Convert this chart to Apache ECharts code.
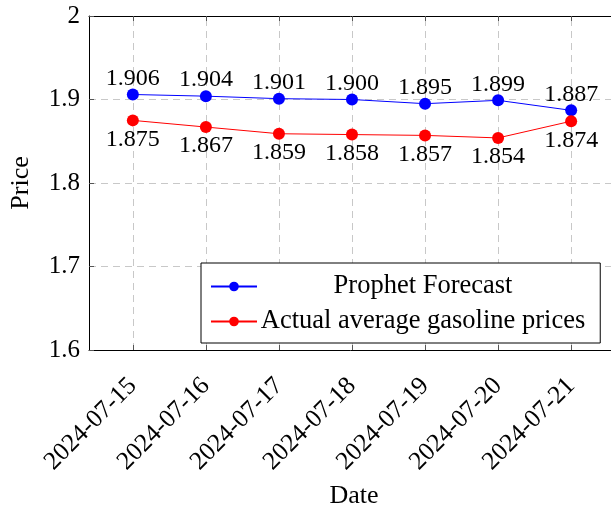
<!DOCTYPE html>
<html>
<head>
<meta charset="utf-8">
<script src="https://cdn.jsdelivr.net/npm/echarts@6/dist/echarts.min.js"></script>
<style>html,body{margin:0;padding:0;background:#fff}#c{width:611px;height:508px}</style>
</head>
<body>
<div id="c"></div>
<script>
const dates = ['2024-07-15','2024-07-16','2024-07-17','2024-07-18','2024-07-19','2024-07-20','2024-07-21'];
const prophetForecast = [1.906, 1.904, 1.901, 1.900, 1.895, 1.899, 1.887];
const actualPrices = [1.875, 1.867, 1.859, 1.858, 1.857, 1.854, 1.874];
const yTicks = [1.6, 1.7, 1.8, 1.9, 2.0];
const yTickLabels = ['1.6', '1.7', '1.8', '1.9', '2'];

const FONT = '"Liberation Serif", "DejaVu Serif", serif';
const idx = dates.map((d, i) => i);
const chart = echarts.init(document.getElementById('c'), null, {renderer: 'canvas'});

function pts(arr) { return arr.map((v, i) => [i, v]); }
const gridDash = {color: '#c8c8c8', type: [7, 5], width: 1};
const X_MIN = -0.6, X_MAX = 6.655;

const option = {
  animation: false,
  textStyle: {fontFamily: FONT},
  grid: {left: 89, right: -8, top: 16, bottom: 158, containLabel: false, outerBoundsMode: 'none'},
  xAxis: [{
    type: 'value', min: X_MIN, max: X_MAX,
    name: 'Date', nameLocation: 'middle', nameGap: 133,
    nameTextStyle: {fontFamily: FONT, fontSize: 26, color: '#000'},
    axisLine: {show: true, onZero: false, lineStyle: {color: '#000', width: 1}},
    axisTick: {show: true, inside: true, length: 5, customValues: idx, lineStyle: {color: '#555'}},
    axisLabel: {
      customValues: idx, rotate: 45, margin: 32,
      fontFamily: FONT, fontSize: 25.5, color: '#000',
      formatter: v => dates[Math.round(v)] || ''
    },
    splitLine: {show: false}
  }, {
    type: 'value', min: X_MIN, max: X_MAX, position: 'top',
    axisLine: {show: true, onZero: false, lineStyle: {color: '#000', width: 1}},
    axisTick: {show: true, inside: true, length: 5, customValues: idx, lineStyle: {color: '#555'}},
    axisLabel: {show: false},
    splitLine: {show: false}
  }],
  yAxis: [{
    type: 'value', min: 1.6, max: 2.0, interval: 0.1,
    name: 'Price', nameLocation: 'middle', nameGap: 55, nameRotate: 90,
    nameTextStyle: {fontFamily: FONT, fontSize: 26, color: '#000'},
    axisLine: {show: true, onZero: false, lineStyle: {color: '#000', width: 1}},
    axisTick: {show: true, inside: true, length: 5, lineStyle: {color: '#555'}},
    axisLabel: {
      margin: 9, fontFamily: FONT, fontSize: 25, color: '#000',
      formatter: v => {
        const k = yTicks.findIndex(t => Math.abs(t - v) < 1e-6);
        return k >= 0 ? yTickLabels[k] : '';
      }
    },
    splitLine: {show: true, lineStyle: gridDash}
  }],
  legend: {
    orient: 'vertical', left: 201, top: 263,
    backgroundColor: '#fff', borderColor: '#000', borderWidth: 1, borderRadius: 0,
    padding: [10, 15, 8, 9], itemGap: 8, itemWidth: 46, itemHeight: 12, itemTextGap: 5,
    formatter: name => '{c|' + name + '}',
    textStyle: {
      fontFamily: FONT, fontSize: 26.5, color: '#000',
      rich: {c: {fontFamily: FONT, fontSize: 26.5, color: '#000', width: 322, align: 'center', lineHeight: 28}}
    },
    data: ['Prophet Forecast', 'Actual average gasoline prices']
  },
  series: [{
    name: 'Prophet Forecast', type: 'line', data: pts(prophetForecast),
    symbol: 'circle', symbolSize: 12, z: 3,
    itemStyle: {color: '#0000ff'}, lineStyle: {color: '#0000ff', width: 1},
    label: {show: true, position: 'top', distance: -2, fontFamily: FONT, fontSize: 24, color: '#000',
      formatter: p => prophetForecast[p.dataIndex].toFixed(3)},
    markLine: {
      silent: true, symbol: 'none', label: {show: false},
      lineStyle: gridDash, z: 0,
      data: idx.map(i => ({xAxis: i}))
    }
  }, {
    name: 'Actual average gasoline prices', type: 'line', data: pts(actualPrices),
    symbol: 'circle', symbolSize: 12, z: 3,
    itemStyle: {color: '#ff0000'}, lineStyle: {color: '#ff0000', width: 1},
    label: {show: true, position: 'bottom', distance: 1, fontFamily: FONT, fontSize: 24, color: '#000',
      formatter: p => actualPrices[p.dataIndex].toFixed(3)}
  }]
};
chart.setOption(option);
</script>
</body>
</html>
